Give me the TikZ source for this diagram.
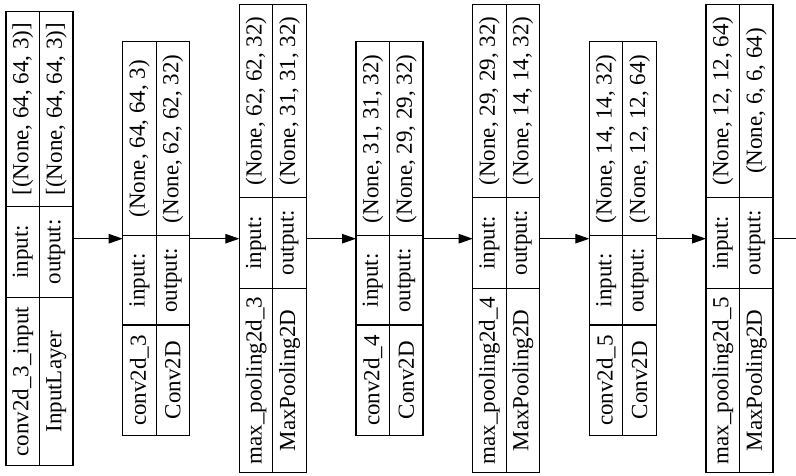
\documentclass[tikz,border=0pt]{standalone}
\usepackage{fontspec}
\setmainfont{Liberation Serif}
\usetikzlibrary{arrows.meta}
\tikzset{
  layerbox/.style={draw=black, line width=1.2pt, inner sep=0pt, outer sep=0pt, minimum width=67pt},
  divider/.style={draw=black, line width=1.2pt},
  celltext/.style={rotate=90, inner sep=0pt, font=\fontsize{23}{27}\selectfont},
  flowline/.style={draw=black, line width=1pt},
  flow/.style={flowline, -{Triangle[length=14pt,width=9.5pt]}},
}
\newcommand\setgeom[4]{\def\gtop{#1}\def\gbot{#2}\def\gda{#3}\def\gdb{#4}}
\newcommand\layerbox[6]{%
  \node[layerbox, minimum height={\gbot pt-\gtop pt}, anchor=north west] (#1) at (#2,\gtop) {};
  \draw[divider] (#1.north) -- (#1.south);
  \draw[divider] (#1.west |- 0,\gda) -- (#1.east |- 0,\gda);
  \draw[divider] (#1.west |- 0,\gdb) -- (#1.east |- 0,\gdb);
  \node[celltext] (#1-label) at ({#2+16.75},{(\gdb+\gbot)/2}) {#3};
  \node[celltext] (#1-class) at ({#2+50.25},{(\gdb+\gbot)/2}) {#4};
  \node[celltext] (#1-inl) at ({#2+16.75},{(\gda+\gdb)/2}) {input:};
  \node[celltext] (#1-outl) at ({#2+50.25},{(\gda+\gdb)/2}) {output:};
  \node[celltext] (#1-ins) at ({#2+16.75},{(\gtop+\gda)/2}) {#5};
  \node[celltext] (#1-outs) at ({#2+50.25},{(\gtop+\gda)/2}) {#6};
}
\begin{document}
\begin{tikzpicture}[x=1pt,y=-1pt]
  \fill[white] (0,0) rectangle (796,475);
  \useasboundingbox (0,0) rectangle (796,475);

  \setgeom{11.7}{465.7}{206.5}{297.3}
  \layerbox{b1}{6}{conv2d\_3\_input}{InputLayer}{[(None, 64, 64, 3)]}{[(None, 64, 64, 3)]}

  \setgeom{41.7}{435.7}{235.7}{325}
  \layerbox{b2}{122.67}{conv2d\_3}{Conv2D}{(None, 64, 64, 3)}{(None, 62, 62, 32)}

  \setgeom{4.7}{472.7}{197.3}{288.3}
  \layerbox{b3}{239.33}{max\_pooling2d\_3}{MaxPooling2D}{(None, 62, 62, 32)}{(None, 31, 31, 32)}

  \setgeom{41.7}{435.7}{235.7}{325}
  \layerbox{b4}{356}{conv2d\_4}{Conv2D}{(None, 31, 31, 32)}{(None, 29, 29, 32)}

  \setgeom{4.7}{472.7}{197.3}{288.3}
  \layerbox{b5}{472.67}{max\_pooling2d\_4}{MaxPooling2D}{(None, 29, 29, 32)}{(None, 14, 14, 32)}

  \setgeom{41.7}{435.7}{235.7}{325}
  \layerbox{b6}{589.33}{conv2d\_5}{Conv2D}{(None, 14, 14, 32)}{(None, 12, 12, 64)}

  \setgeom{4.7}{472.7}{197.3}{288.3}
  \layerbox{b7}{706}{max\_pooling2d\_5}{MaxPooling2D}{(None, 12, 12, 64)}{(None, 6, 6, 64)}

  \coordinate (cut) at (796,238.7);
  \draw[flow] (b1.east) -- (b2.west);
  \draw[flow] (b2.east) -- (b3.west);
  \draw[flow] (b3.east) -- (b4.west);
  \draw[flow] (b4.east) -- (b5.west);
  \draw[flow] (b5.east) -- (b6.west);
  \draw[flow] (b6.east) -- (b7.west);
  \draw[flowline] (b7.east) -- (cut);
\end{tikzpicture}
\end{document}
